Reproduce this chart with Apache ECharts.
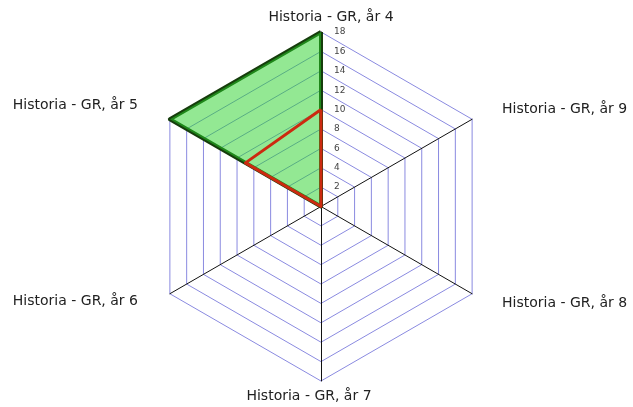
<!DOCTYPE html>
<html>
<head>
<meta charset="utf-8">
<script src="https://cdn.jsdelivr.net/npm/echarts@6/dist/echarts.min.js"></script>
<style>
  html, body { margin: 0; padding: 0; background: #fff; }
  #chart { width: 633px; height: 407px; }
</style>
</head>
<body>
<div id="chart"></div>
<script>
// indikatorer, moturs från toppen
var indicatorNames = ['Historia - GR, år 4', 'Historia - GR, år 5', 'Historia - GR, år 6',
  'Historia - GR, år 7', 'Historia - GR, år 8', 'Historia - GR, år 9'];
var axisMax = 18;
var greenValues = [18, 18, 0, 0, 0, 0];
var redValues = [10, 9, 0, 0, 0, 0];

// finjustering av namnens placering (padding per etikett)
var namePads = [
  [0, 0, 0, 20],
  [0, 25, 19, 0],
  [8, 25, 0, 0],
  [0, 24, 0, 0],
  [12, 0, 0, 23],
  [0, 0, 12, 23]
];

var myChart = echarts.init(document.getElementById('chart'));

var indicators = indicatorNames.map(function (n, i) {
  var ind = { name: n, min: 0, max: axisMax };
  if (i == 0) {
    ind.axisLabel = { show: true } // bara första axeln får siffror
  }
  return ind;
});

var richNames = {};
namePads.forEach(function (p, i) {
  richNames['p' + i] = {
    fontSize: 14,
    fontFamily: 'DejaVu Sans',
    color: '#222',
    padding: p
  };
});

var option = {
  animation: false,
  textStyle: { fontFamily: 'DejaVu Sans' },
  radar: {
    center: [321, 206.5],
    radius: 174.5,
    shape: 'polygon',
    splitNumber: 9,
    indicator: indicators,
    nameGap: 8,
    axisName: {
      color: '#222',
      fontSize: 14,
      fontFamily: 'DejaVu Sans',
      formatter: function (value) {
        var idx = indicatorNames.indexOf(value);
        return '{p' + idx + '|' + value + '}';
      },
      rich: richNames
    },
    axisLine: { lineStyle: { color: '#111', width: 1 } },
    splitLine: { lineStyle: { color: '#8a8ae0', width: 1 } },
    splitArea: { show: false },
    axisTick: { show: false },
    axisLabel: {
      show: false,
      showMinLabel: false,
      fontSize: 9,
      color: '#444',
      fontFamily: 'DejaVu Sans',
      align: 'left',
      verticalAlign: 'middle',
      padding: [0, 0, 6, 0],
      margin: -13
    }
  },
  series: [{
    type: 'radar',
    symbol: 'none',
    data: [{
      value: greenValues,
      lineStyle: { color: '#163d0c', width: 4 },
      areaStyle: { color: 'rgba(40,210,40,0.5)', opacity: 1 }
    }, {
      value: redValues,
      lineStyle: { color: '#cc2a10', width: 3 }
    }]
  }]
};
myChart.setOption(option);
</script>
</body>
</html>
